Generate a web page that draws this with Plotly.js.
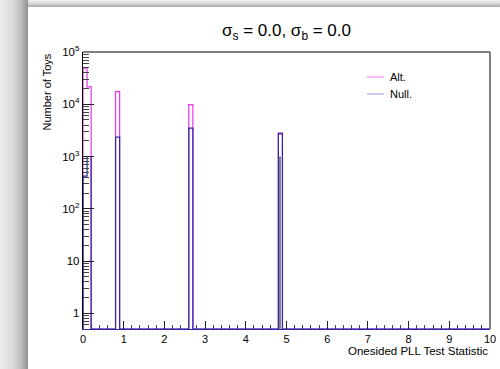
<!DOCTYPE html>
<html>
<head>
<meta charset="utf-8">
<script src="https://cdn.plot.ly/plotly-3.0.1.min.js"></script>
<style>
  html, body { margin: 0; padding: 0; background: #ffffff; }
  #frame { position: absolute; left: 0; top: 0; width: 500px; height: 369px; overflow: hidden; background: #ffffff; }
  #shadowTop { position: absolute; left: 0; top: 0; width: 500px; height: 7px;
               background: linear-gradient(to bottom, #f0f0f0 0%, #d8d8d8 50%, #a8a8a8 100%); }
  #shadowLeft { position: absolute; left: 0; top: 0; width: 28px; height: 369px;
                background: linear-gradient(to right, #ededed 0%, #dadada 45%, #bdbdbd 75%, #8f8f8f 100%); }
  #plot { position: absolute; left: 0; top: 0; width: 500px; height: 369px; }
</style>
</head>
<body>
<div id="frame"><div id="shadowTop"></div><div id="shadowLeft"></div><div id="plot"></div></div>
<script>
// ---- data ----
const nBins = 100, xLow = 0, xHigh = 10;
const altBinLow  = [0.0, 0.1, 0.8, 2.6, 4.8];
const altCounts  = [49000, 21500, 17400, 9800, 2680];
const nullBinLow = [0.0, 0.1, 0.8, 2.6, 4.8];
const nullCounts = [420, 1000, 2340, 3500, 2790];
const obsValue = 4.84;   // observed test statistic (black line)
const obsHeight = 1000;
const yMajorVals = [1, 10, 100, 1000, 10000, 100000];
const yMajorText = ['1', '10', '10<sup>2</sup>', '10<sup>3</sup>', '10<sup>4</sup>', '10<sup>5</sup>'];
const seriesNames = ['Alt.', 'Null.'];
const titleText = 'σ<sub>s</sub> = 0.0, σ<sub>b</sub> = 0.0';
const xTitle = 'Onesided PLL Test Statistic';
const yTitle = 'Number of Toys';

// ---- styles ----
const altColor = '#ee33ee';
const nullColor = '#2a2aa8';
const yMin = 0.5, yMax = 1e5;
const FONT = 'Liberation Sans, Arial, Helvetica, sans-serif';

function stepTrace(binLow, counts, color, name) {
  const w = (xHigh - xLow) / nBins;
  const arr = new Array(nBins).fill(0);
  binLow.forEach((b, k) => { arr[Math.round((b - xLow) / w)] = counts[k]; });
  const xs = [xLow], ys = [yMin];
  for (let i = 0; i < nBins; i++) {
    xs.push(xLow + i * w);
    ys.push(arr[i] > 0 ? arr[i] : yMin);
  }
  xs.push(xHigh); ys.push(yMin);
  return { x: xs, y: ys, type: 'scatter', mode: 'lines', name: name,
           line: { color: color, width: 1.2, shape: 'hv' }, hoverinfo: 'skip', showlegend: false };
}

const traces = [
  stepTrace(altBinLow, altCounts, altColor, seriesNames[0]),
  stepTrace(nullBinLow, nullCounts, nullColor, seriesNames[1]),
  { x: [obsValue, obsValue], y: [yMin, obsHeight], type: 'scatter', mode: 'lines',
    line: { color: '#333333', width: 1.2 }, showlegend: false, hoverinfo: 'skip' }
];

// minor tick positions (axis decoration)
const yMinor = [];
for (let e = -1; e < 5; e++) for (let m = 2; m <= 9; m++) {
  const v = m * Math.pow(10, e);
  if (v > yMin && v < yMax) yMinor.push(v);
}

const W = 407, H = 277, L = 83, T = 52;
const layout = {
  width: 500, height: 369,
  margin: { l: L, r: 10, t: T, b: 40 },
  paper_bgcolor: 'rgba(0,0,0,0)',
  plot_bgcolor: '#ffffff',
  font: { family: FONT, color: '#000', size: 11 },
  showlegend: false,
  title: { text: titleText, font: { family: FONT, size: 17, color: '#000' },
           x: (L + W / 2) / 500, xanchor: 'center', y: 1 - 30 / 369, yanchor: 'middle', xref: 'container', yref: 'container' },
  xaxis: {
    type: 'linear', range: [xLow, xHigh], dtick: 1, tick0: 0,
    showgrid: false, zeroline: false,
    showline: true, linecolor: nullColor, linewidth: 1.2, mirror: false,
    ticks: 'inside', ticklen: 8, tickcolor: '#222', tickwidth: 1,
    minor: { dtick: 0.2, ticks: 'inside', ticklen: 4, tickcolor: '#444', tickwidth: 1, showgrid: false },
    tickfont: { family: FONT, size: 11, color: '#000' }
  },
  yaxis: {
    type: 'log', range: [Math.log10(yMin), Math.log10(yMax)],
    tickmode: 'array', tickvals: yMajorVals, ticktext: yMajorText,
    showgrid: false, zeroline: false,
    showline: true, linecolor: '#000', linewidth: 1.2, mirror: false,
    ticks: 'inside', ticklen: 11, tickcolor: '#222', tickwidth: 1,
    minor: { tickmode: 'array', tickvals: yMinor, ticks: 'inside', ticklen: 6, tickcolor: '#444', tickwidth: 1, showgrid: false },
    tickfont: { family: FONT, size: 11.5, color: '#000' }
  },
  shapes: [
    { type: 'line', xref: 'paper', yref: 'paper', x0: 0, x1: 1, y0: 1, y1: 1, line: { color: '#555', width: 1.5 } },
    { type: 'line', xref: 'paper', yref: 'paper', x0: 1, x1: 1, y0: 0, y1: 1, line: { color: '#555', width: 1.5 } },
    // legend samples
    { type: 'line', xref: 'paper', yref: 'paper', x0: (367 - L) / W, x1: (384 - L) / W,
      y0: 1 - (77 - T) / H, y1: 1 - (77 - T) / H, line: { color: altColor, width: 1 }, opacity: 0.7 },
    { type: 'line', xref: 'paper', yref: 'paper', x0: (367 - L) / W, x1: (384 - L) / W,
      y0: 1 - (94 - T) / H, y1: 1 - (94 - T) / H, line: { color: nullColor, width: 1 }, opacity: 0.5 }
  ],
  annotations: [
    { text: xTitle, xref: 'paper', yref: 'paper', x: 1, xanchor: 'right',
      y: -(351 - (T + H)) / H, yanchor: 'middle', showarrow: false,
      font: { family: FONT, size: 11.5, color: '#000' } },
    { text: yTitle, textangle: -90, xref: 'paper', yref: 'paper', x: (46 - L) / W, xanchor: 'center',
      y: 1, yanchor: 'top', showarrow: false, font: { family: FONT, size: 11, color: '#000' } },
    { text: seriesNames[0], xref: 'paper', yref: 'paper', x: (388 - L) / W, xanchor: 'left',
      y: 1 - (77 - T) / H, yanchor: 'middle', showarrow: false, font: { family: FONT, size: 11, color: '#000' } },
    { text: seriesNames[1], xref: 'paper', yref: 'paper', x: (388 - L) / W, xanchor: 'left',
      y: 1 - (94 - T) / H, yanchor: 'middle', showarrow: false, font: { family: FONT, size: 11, color: '#000' } }
  ]
};

Plotly.newPlot('plot', traces, layout, { displayModeBar: false, staticPlot: true });
</script>
</body>
</html>
